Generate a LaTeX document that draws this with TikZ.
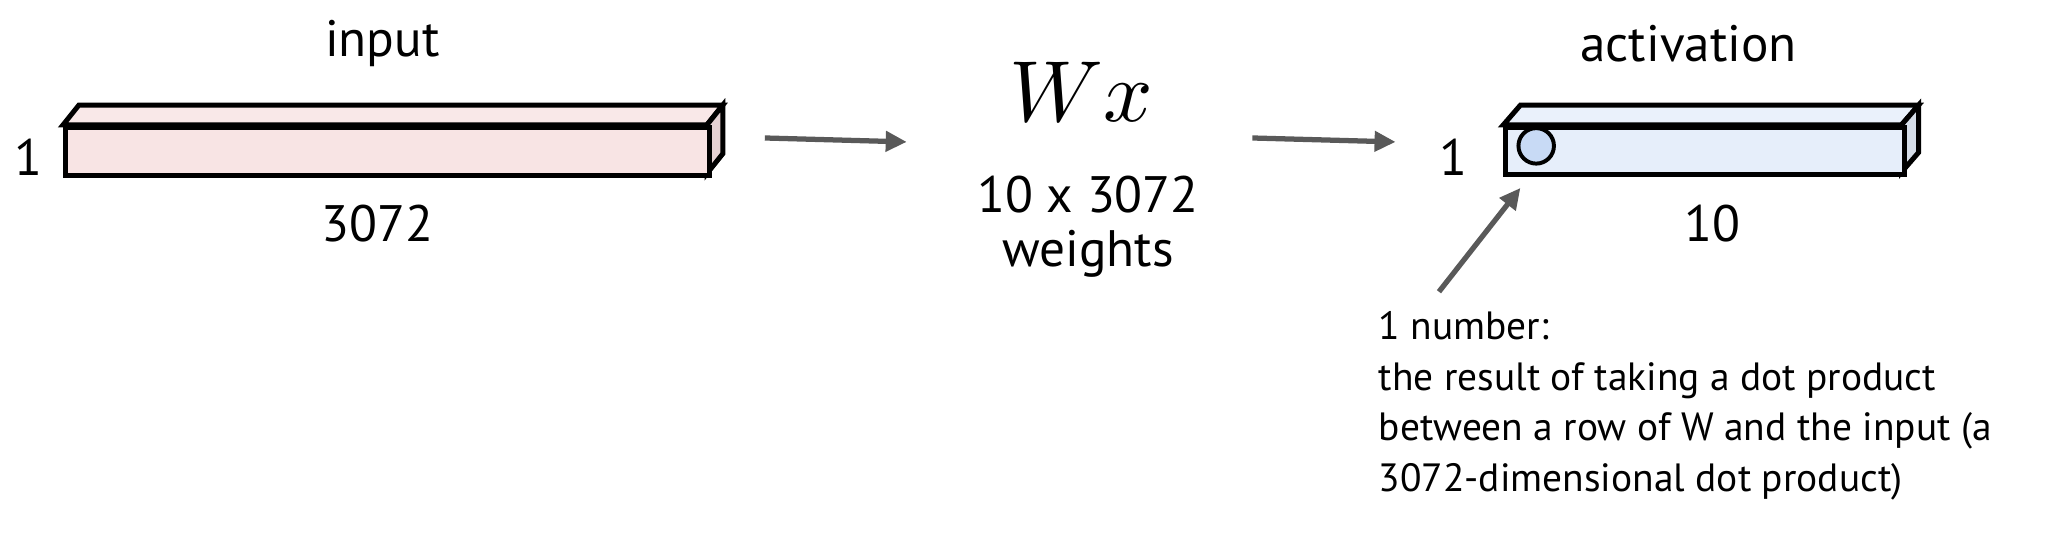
\documentclass[tikz,border=0pt]{standalone}
\usepackage{graphicx}
\usepackage{fontspec}
\setmainfont{PT Sans}
\usetikzlibrary{arrows.meta}
\definecolor{inFront}{HTML}{F8E4E4}
\definecolor{inTop}{HTML}{F9E8E8}
\definecolor{inSide}{HTML}{E6D2D4}
\definecolor{acFront}{HTML}{E6EEFA}
\definecolor{acTop}{HTML}{EAF1FB}
\definecolor{acSide}{HTML}{D5DDE8}
\definecolor{dotFill}{HTML}{C8DAF5}
\definecolor{arrGray}{HTML}{595959}
\tikzset{
  face/.style={draw=black, line width=3.8pt, line join=miter},
  lbl/.style={font=\fontsize{39}{44}\selectfont, inner sep=0pt},
  note/.style={font=\fontsize{30}{38.5}\selectfont, inner sep=0pt, align=left},
  conn/.style={draw=arrGray, line width=4pt, -{Triangle[length=16pt,width=15pt]}, shorten >=0pt},
}
\begin{document}
\begin{tikzpicture}[x=1pt,y=-1pt]
\useasboundingbox (0,0) rectangle (1560,406.4);
% input box
\node[lbl] (inlbl) at (291,33) {input};
\filldraw[face, fill=inTop] (48,95) -- (60,80) -- (550,80) -- (538,95) -- cycle;
\filldraw[face, fill=inSide] (538,95) -- (550,80) -- (550,117) -- (538,132) -- cycle;
\node[face, fill=inFront, minimum width=490pt, minimum height=37pt, inner sep=0pt, anchor=north west] (inbox) at (48,95) {};
\node[lbl] (inone) at (22,120) {1};
\node[lbl] (indim) at (287,170) {3072};
% middle
\node[inner sep=0pt] (wx) at (823,70) {\scalebox{6.6}{$Wx$}};
\node[lbl] (wdim) at (828,148) {10 x 3072};
\node[lbl] (wlbl) at (828,193) {weights};
% activation box
\node[lbl] (aclbl) at (1285,33) {activation};
\filldraw[face, fill=acTop] (1144,95) -- (1157,80) -- (1460,80) -- (1447,95) -- cycle;
\filldraw[face, fill=acSide] (1447,95) -- (1460,80) -- (1460,116) -- (1447,131) -- cycle;
\node[face, fill=acFront, minimum width=303pt, minimum height=36pt, inner sep=0pt, anchor=north west] (acbox) at (1144,95) {};
\node[draw=black, line width=3pt, fill=dotFill, circle, minimum size=27pt, inner sep=0pt] (dot) at (1169,111) {};
\node[lbl] (acone) at (1106,120) {1};
\node[lbl] (acdim) at (1303,170) {10};
% arrows
\coordinate (a1s) at (582,105); \coordinate (a1e) at (690,108);
\coordinate (a2s) at (953,105); \coordinate (a2e) at (1062,108);
\coordinate (a3s) at (1095,222); \coordinate (a3e) at (1157,143);
\draw[conn] (a1s) -- (a1e);
\draw[conn] (a2s) -- (a2e);
\draw[conn] (a3s) -- (a3e);
% note
\node[note, anchor=north west] (note) at (1049,237) {1 number:\\the result of taking a dot product\\between a row of W and the input (a\\3072-dimensional dot product)};
\end{tikzpicture}
\end{document}
